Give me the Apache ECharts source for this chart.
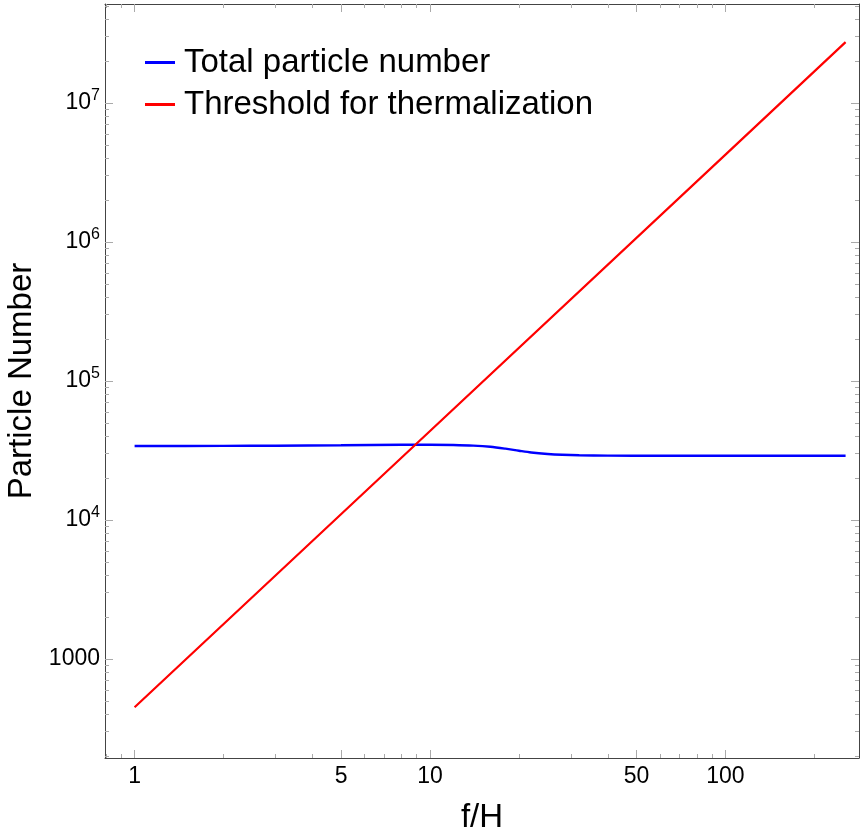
<!DOCTYPE html>
<html>
<head>
<meta charset="utf-8">
<script src="https://cdn.jsdelivr.net/npm/echarts@6/dist/echarts.min.js"></script>
<style>
  html, body { margin: 0; padding: 0; background: #fff; }
  #chart { width: 865px; height: 838px; }
</style>
</head>
<body>
<div id="chart"></div>
<script>
// ---- data ----
const fH = [1, 2, 3, 5, 8, 10, 12, 14, 16, 18, 20, 22, 25, 28, 32, 40, 60, 100, 160, 255];
const totalParticles = [34050, 34150, 34250, 34500, 34800, 34800, 34650, 34300, 33650, 32600,
                        31500, 30600, 29850, 29450, 29200, 29050, 29000, 29000, 29000, 29000];
const thresholdX = [1, 10, 100, 255];
const thresholdN = [450, 43700, 4250000, 27400000];

const xMajorTicks = [1, 5, 10, 50, 100];
const xMinorTicks = [0.8, 0.9, 2, 3, 4, 6, 7, 8, 9, 20, 30, 40, 60, 70, 80, 90, 200];
const yMajorTicks = [1000, 10000, 100000, 1000000, 10000000];
const yMinorTicks = [200, 300, 400, 500, 600, 700, 800, 900,
                     2000, 3000, 4000, 5000, 6000, 7000, 8000, 9000,
                     20000, 30000, 40000, 50000, 60000, 70000, 80000, 90000,
                     200000, 300000, 400000, 500000, 600000, 700000, 800000, 900000,
                     2000000, 3000000, 4000000, 5000000, 6000000, 7000000, 8000000, 9000000,
                     20000000, 30000000, 40000000, 50000000];

const seriesNames = ['Total particle number', 'Threshold for thermalization'];

const X_MIN = 0.794, X_MAX = 283.1;
const Y_MIN = 194.1, Y_MAX = 5.15e7;
const FONT = "'Liberation Sans', Arial, Helvetica, sans-serif";
const FRAME = '#444';
const TICK = '#aaa';

function tickAxis(position, values, len, showLine) {
  const isX = position === 'top' || position === 'bottom';
  return {
    type: 'log', position: position, min: isX ? X_MIN : Y_MIN, max: isX ? X_MAX : Y_MAX,
    axisLine: { show: showLine, lineStyle: { color: FRAME, width: 1 } },
    axisTick: { show: true, inside: true, length: len, customValues: values,
                lineStyle: { color: TICK, width: 1 } },
    axisLabel: { show: false },
    splitLine: { show: false },
    minorTick: { show: false },
    silent: true
  };
}

const chart = echarts.init(document.getElementById('chart'), null, { renderer: 'canvas' });

const xMain = {
  type: 'log', position: 'bottom', min: X_MIN, max: X_MAX,
  name: 'f/H', nameLocation: 'middle', nameGap: 43,
  nameTextStyle: { fontSize: 33, color: '#000', fontFamily: FONT },
  axisLine: { show: true, lineStyle: { color: FRAME, width: 1 } },
  axisTick: { show: true, inside: true, length: 8, customValues: xMajorTicks,
              lineStyle: { color: TICK, width: 1 } },
  axisLabel: { show: true, customValues: xMajorTicks, margin: 7, fontSize: 23, color: '#000',
               fontFamily: FONT, formatter: function (v) { return String(Math.round(v)); } },
  splitLine: { show: false }, minorTick: { show: false }
};

const yMain = {
  type: 'log', position: 'left', min: Y_MIN, max: Y_MAX,
  name: 'Particle Number', nameLocation: 'middle', nameGap: 64, nameRotate: 90,
  nameTextStyle: { fontSize: 33, color: '#000', fontFamily: FONT },
  axisLine: { show: true, lineStyle: { color: FRAME, width: 1 } },
  axisTick: { show: true, inside: true, length: 8, customValues: yMajorTicks,
              lineStyle: { color: TICK, width: 1 } },
  axisLabel: {
    show: true, customValues: yMajorTicks, margin: 5, fontSize: 23, color: '#000',
    fontFamily: FONT, lineHeight: 30,
    formatter: function (v) {
      const e = Math.round(Math.log10(v));
      if (e === 3) return '1000';
      return '10{s|' + e + '}';
    },
    rich: { s: { fontSize: 16, verticalAlign: 'top', lineHeight: 18, fontFamily: FONT, color: '#000' } }
  },
  splitLine: { show: false }, minorTick: { show: false }
};

const option = {
  backgroundColor: '#fff',
  animation: false,
  grid: { left: 105, right: 6, top: 4, bottom: 80, containLabel: false, outerBoundsMode: 'none' },
  legend: {
    orient: 'vertical', left: 140, top: 41,
    icon: 'rect', itemWidth: 30, itemHeight: 3, itemGap: 9,
    textStyle: { fontSize: 33, lineHeight: 33, color: '#000', fontFamily: FONT, padding: [0, 0, 0, 4] },
    data: seriesNames
  },
  xAxis: [
    xMain,
    tickAxis('bottom', xMinorTicks, 4, false),
    tickAxis('top', xMajorTicks, 8, true),
    tickAxis('top', xMinorTicks, 4, false)
  ],
  yAxis: [
    yMain,
    tickAxis('left', yMinorTicks, 4, false),
    tickAxis('right', yMajorTicks, 8, true),
    tickAxis('right', yMinorTicks, 4, false)
  ],
  series: [
    {
      name: seriesNames[0], type: 'line', xAxisIndex: 0, yAxisIndex: 0,
      data: fH.map(function (x, i) { return [x, totalParticles[i]]; }),
      showSymbol: false, symbol: 'none', smooth: 0.3,
      lineStyle: { color: '#0000ff', width: 2.4 }, itemStyle: { color: '#0000ff' }
    },
    {
      name: seriesNames[1], type: 'line', xAxisIndex: 0, yAxisIndex: 0,
      data: thresholdX.map(function (x, i) { return [x, thresholdN[i]]; }),
      showSymbol: false, symbol: 'none',
      lineStyle: { color: '#ff0000', width: 2.2 }, itemStyle: { color: '#ff0000' }
    }
  ]
};

chart.setOption(option);
</script>
</body>
</html>
